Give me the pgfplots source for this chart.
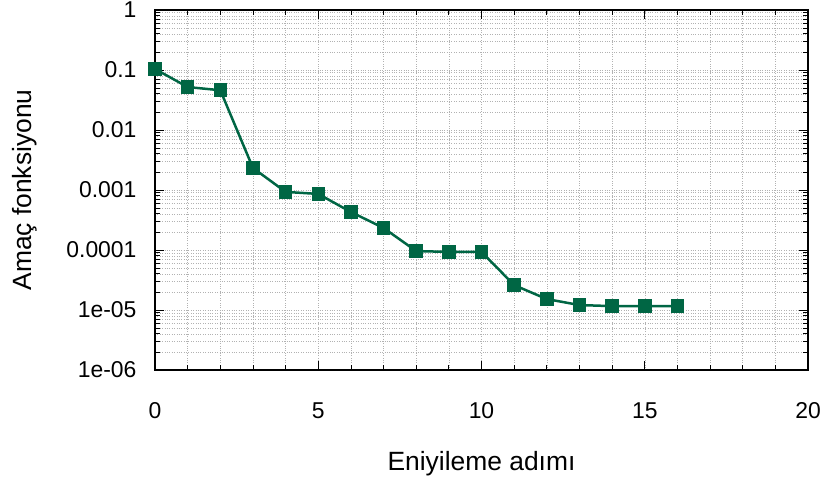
\documentclass[border=0pt]{standalone}
\usepackage{pgfplots}
\pgfplotsset{compat=1.18}
\usepackage{fontspec}
\setmainfont{Liberation Sans}
\definecolor{lc}{RGB}{0,102,68}
\begin{document}
\begin{tikzpicture}
\path[use as bounding box] (-155bp,-118bp) rectangle (672bp,370bp);
\begin{axis}[
  at={(0,0)}, anchor=south west,
  scale only axis, width=653bp, height=360bp,
  xmin=0, xmax=20, ymode=log, ymin=1e-6, ymax=1,
  xtick={0,5,10,15,20}, minor x tick num=4,
  ytick={1e-6,1e-5,1e-4,1e-3,1e-2,1e-1,1},
  yticklabels={1e-06,1e-05,0.0001,0.001,0.01,0.1,1},
  xticklabel style={font=\fontsize{23}{26}\selectfont, yshift=-29bp},
  yticklabel style={font=\fontsize{23}{26}\selectfont, xshift=-15bp},
  /pgf/number format/assume math mode=true,
  xlabel={Eniyileme adımı}, ylabel={Amaç fonksiyonu},
  label style={font=\fontsize{26.5}{29}\selectfont},
  xlabel style={yshift=-26bp},
  ylabel style={yshift=22bp},
  tick align=inside, major tick length=9bp, minor tick length=5bp,
  tick style={black, line width=0.8pt},
  axis line style={line width=1.2pt},
  grid=both,
  major grid style={gray!60, dotted, line width=0.5pt},
  minor grid style={gray!60, dotted, line width=0.5pt},
]
\addplot[lc, line width=2.5bp, mark=square*, mark size=5.5bp, mark options={fill=lc}] coordinates {
(0,0.104) (1,0.052) (2,0.046) (3,0.00233) (4,0.00093) (5,0.00086)
(6,0.00043) (7,0.000233) (8,9.6e-5) (9,9.3e-5) (10,9.3e-5)
(11,2.6e-5) (12,1.52e-5) (13,1.21e-5) (14,1.16e-5) (15,1.16e-5) (16,1.16e-5)
};
\end{axis}
\end{tikzpicture}
\end{document}
